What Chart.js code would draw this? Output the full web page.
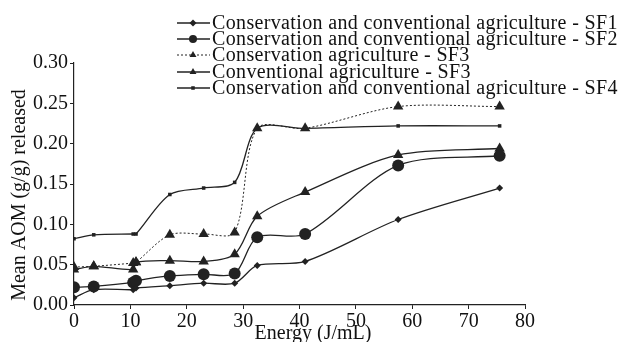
<!DOCTYPE html>
<html>
<head>
<meta charset="utf-8">
<script src="https://cdn.jsdelivr.net/npm/chart.js@4"></script>
<style>
  html, body { margin: 0; padding: 0; background: #fff; }
  #wrap { width: 621px; height: 342px; }
</style>
</head>
<body>
<div id="wrap"><canvas id="aom-chart" width="621" height="342"></canvas></div>
<script>
// Energy levels (J/mL) where AOM was measured
const energy = [0, 3.5, 10.5, 11, 17, 23, 28.5, 32.5, 41, 57.5, 75.5];

// Mean AOM released (g/g) per series
const sf1 = [0.009, 0.019, 0.019, 0.021, 0.024, 0.027, 0.027, 0.049, 0.054, 0.106, 0.145];
const sf2 = [0.022, 0.023, 0.028, 0.030, 0.036, 0.038, 0.039, 0.084, 0.088, 0.173, 0.185];
const conservationSF3 = [0.047, 0.048, 0.052, 0.053, 0.087, 0.088, 0.090, 0.219, 0.219, 0.246, 0.246];
const conventionalSF3 = [0.044, 0.048, 0.044, 0.053, 0.055, 0.054, 0.063, 0.110, 0.140, 0.186, 0.194];
const sf4 = [0.082, 0.087, 0.088, 0.088, 0.137, 0.145, 0.152, 0.219, 0.219, 0.222, 0.222];

const labels = [
  "Conservation and conventional agriculture - SF1",
  "Conservation and conventional agriculture - SF2",
  "Conservation agriculture - SF3",
  "Conventional agriculture - SF3",
  "Conservation and conventional agriculture - SF4",
];

const yTicks = [0, 0.05, 0.1, 0.15, 0.2, 0.25, 0.3];
const xTitle = "Energy (J/mL)";
const yTitle = "Mean AOM (g/g) released";

const INK = "#222";
const FONT = "'Liberation Serif', 'Times New Roman', serif";

Chart.defaults.font.family = FONT;
Chart.defaults.font.size = 20;
Chart.defaults.color = "#111";

function toPoints(values) {
  return values.map((v, i) => ({ x: energy[i], y: v }));
}

function makeDataset(label, values, style, radius, legendRadius, dash) {
  return {
    label: label,
    data: toPoints(values),
    borderColor: INK,
    backgroundColor: INK,
    borderWidth: dash ? 1 : 1.3,
    borderDash: dash || [],
    pointStyle: style,
    pointRadius: radius,
    pointBackgroundColor: INK,
    pointBorderColor: INK,
    pointBorderWidth: 0,
    legendRadius: legendRadius,
    tension: 0.3,
    fill: false,
  };
}

/**
 * Legend and axis titles drawn by hand so they sit where the original has them
 */
const legendPlugin = {
  id: "handLegend",
  afterDraw(chart) {
    const ctx = chart.ctx;
    const rows = [23, 39, 55, 72, 88];
    chart.data.datasets.forEach((ds, i) => {
      const y = rows[i];
      ctx.save();
      ctx.strokeStyle = INK;
      ctx.lineWidth = ds.borderWidth;
      ctx.setLineDash(ds.borderDash);
      ctx.beginPath();
      ctx.moveTo(177, y);
      ctx.lineTo(210, y);
      ctx.stroke();
      ctx.setLineDash([]);
      ctx.fillStyle = INK;
      Chart.helpers.drawPoint(ctx, {
        pointStyle: ds.pointStyle,
        radius: ds.legendRadius,
        rotation: 0,
        borderWidth: 0,
      }, 193, y);
      ctx.fillStyle = "#111";
      ctx.font = "20px " + FONT;
      ctx.letterSpacing = "0.35px";
      ctx.textBaseline = "middle";
      ctx.fillText(ds.label, 212, y + 1);
      ctx.restore();
    });

    // axis titles
    ctx.save();
    ctx.fillStyle = "#111";
    ctx.font = "20px " + FONT;
    ctx.textAlign = "center";
    ctx.textBaseline = "middle";
    ctx.fillText(xTitle, 313, 334);
    ctx.translate(20, 195);
    ctx.rotate(-Math.PI / 2);
    ctx.fillText(yTitle, 0, 0);
    ctx.restore();
  },
};

const ctx = document.getElementById("aom-chart");

new Chart(ctx, {
  type: "line",
  data: {
    datasets: [
      makeDataset(labels[0], sf1, "rectRot", 3.5, 3.5),
      makeDataset(labels[1], sf2, "circle", 6, 4),
      makeDataset(labels[2], conservationSF3, "triangle", 6, 4, [2, 2]),
      makeDataset(labels[3], conventionalSF3, "triangle", 6, 4),
      makeDataset(labels[4], sf4, "rect", 2.5, 2.5),
    ],
  },
  options: {
    responsive: false,
    animation: false,
    layout: {
      padding: { top: 63, right: 96, left: 0, bottom: 0 },
    },
    plugins: {
      legend: { display: false },
      tooltip: { enabled: false },
    },
    scales: {
      x: {
        type: "linear",
        min: 0,
        max: 80,
        afterFit: (scale) => { scale.height = 37; },
        border: { color: INK, width: 1.2 },
        grid: { drawOnChartArea: false, drawTicks: true, tickLength: 4, color: INK },
        ticks: { stepSize: 10, padding: 1, maxRotation: 0, color: "#111" },
        title: { display: false },
      },
      y: {
        type: "linear",
        min: 0,
        max: 0.3,
        afterFit: (scale) => { scale.width = 74; },
        afterBuildTicks: (scale) => {
          scale.ticks = yTicks.map((v) => ({ value: v }));
        },
        border: { color: INK, width: 1.2 },
        grid: { drawOnChartArea: false, drawTicks: true, tickLength: 4, color: INK },
        ticks: {
          padding: 2,
          color: "#111",
          callback: (v) => Number(v).toFixed(2),
        },
        title: { display: false },
      },
    },
  },
  plugins: [legendPlugin],
});
</script>
</body>
</html>
